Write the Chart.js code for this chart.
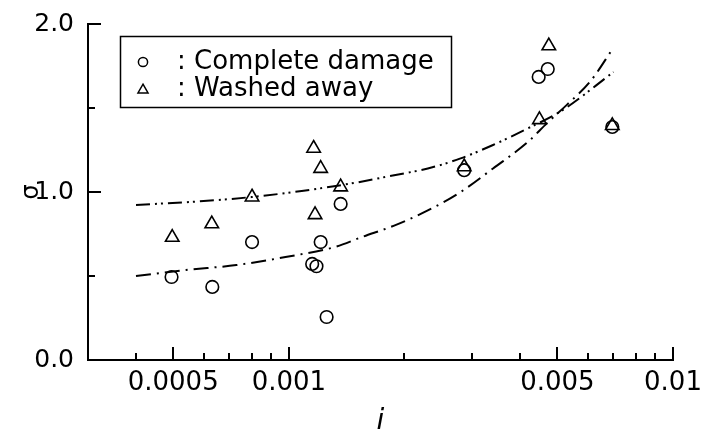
<!DOCTYPE html>
<html>
<head>
<meta charset="utf-8">
<script src="https://cdn.jsdelivr.net/npm/chart.js@4/dist/chart.umd.min.js"></script>
<style>
  body { margin: 0; background: #fff; }
  #wrap { width: 703px; height: 434px; }
</style>
</head>
<body>
<div id="wrap"><canvas id="sigma-chart" width="703" height="434"></canvas></div>
<script>
// observed points, channel slope i vs. sigma
const damageI     = [0.000495, 0.000632, 0.000802, 0.00115, 0.00118, 0.00121, 0.001254, 0.001364, 0.00286, 0.00447, 0.00472, 0.00695];
const damageSigma = [0.494, 0.435, 0.702, 0.572, 0.558, 0.702, 0.256, 0.929, 1.13, 1.685, 1.732, 1.387];

const washedI     = [0.000497, 0.00063, 0.000802, 0.00116, 0.00117, 0.00121, 0.001364, 0.00286, 0.00449, 0.00475, 0.00695];
const washedSigma = [0.73, 0.81, 0.97, 1.26, 0.865, 1.14, 1.03, 1.15, 1.43, 1.87, 1.395];

// fitted curves
const damageFitI     = [0.0004, 0.00054, 0.00073, 0.00098, 0.00132, 0.00155, 0.00188, 0.0023, 0.0028, 0.0034, 0.0042, 0.0047, 0.0053, 0.0061, 0.007];
const damageFitSigma = [0.50, 0.536, 0.565, 0.613, 0.673, 0.732, 0.80, 0.89, 1.0, 1.14, 1.30, 1.41, 1.52, 1.66, 1.86];

const washedFitI     = [0.0004, 0.0006, 0.0008, 0.00108, 0.00148, 0.00188, 0.0023, 0.0028, 0.0034, 0.0042, 0.0051, 0.007];
const washedFitSigma = [0.923, 0.946, 0.97, 1.006, 1.054, 1.10, 1.14, 1.20, 1.28, 1.38, 1.48, 1.714];

// axis ticks
const xTicks      = [0.0004, 0.0005, 0.0006, 0.0007, 0.0008, 0.0009, 0.001, 0.002, 0.003, 0.004, 0.005, 0.006, 0.007, 0.008, 0.009, 0.01];
const xMajor      = [0.0005, 0.001, 0.005, 0.01];
const xLabels     = ['0.0005', '0.001', '0.005', '0.01'];
const yTicks      = [0, 0.5, 1, 1.5, 2];
const yMajor      = [0, 1, 2];
const yLabels     = ['0.0', '1.0', '2.0'];

const FONT = 'DejaVu Sans';

const toPoints = (xs, ys) => xs.map((v, i) => ({ x: v, y: ys[i] }));
const near = (a, b) => Math.abs(a - b) < b * 1e-6 + 1e-12;
const labelFor = (v, majors, labels) => {
    const k = majors.findIndex(m => near(v, m));
    return k < 0 ? '' : labels[k];
};

// inward tick marks, long on labelled values
const inwardTicks = {
    id: 'inwardTicks',
    afterDraw(chart) {
        const { ctx, scales: { x, y } } = chart;
        ctx.save();
        ctx.strokeStyle = '#000';
        ctx.lineWidth = 2;
        ctx.beginPath();
        xTicks.forEach(v => {
            const px = Math.round(x.getPixelForValue(v));
            const len = xMajor.some(m => near(v, m)) ? 13 : 7;
            ctx.moveTo(px, y.bottom);
            ctx.lineTo(px, y.bottom - len);
        });
        yTicks.forEach(v => {
            const py = Math.round(y.getPixelForValue(v));
            const len = yMajor.some(m => near(v, m)) ? 13 : 7;
            ctx.moveTo(x.left, py);
            ctx.lineTo(x.left + len, py);
        });
        ctx.stroke();
        ctx.restore();
    }
};

// boxed key in the upper left of the plot
const keyBox = {
    id: 'keyBox',
    afterDraw(chart) {
        const ctx = chart.ctx;
        const entries = chart.data.datasets.filter(d => d.keyed);
        ctx.save();
        ctx.strokeStyle = '#000';
        ctx.lineWidth = 1.5;
        ctx.strokeRect(120.5, 36.5, 331, 71);
        ctx.font = `26px "${FONT}"`;
        ctx.textBaseline = 'middle';
        entries.forEach((d, i) => {
            const cy = 62 + i * 27;
            ctx.fillStyle = 'rgba(0,0,0,0)';
            Chart.helpers.drawPoint(ctx, {
                pointStyle: d.pointStyle,
                radius: d.pointStyle === 'triangle' ? 5.8 : 4.6,
                borderWidth: 1.4
            }, 143, cy + (d.pointStyle === 'triangle' ? 1 : 0));
            ctx.fillStyle = '#000';
            ctx.fillText(': ' + d.label, 177, cy);
        });
        ctx.restore();
    }
};

new Chart(document.getElementById('sigma-chart'), {
    type: 'scatter',
    data: {
        datasets: [
            {
                label: 'Complete damage',
                keyed: true,
                data: toPoints(damageI, damageSigma),
                pointStyle: 'circle',
                pointRadius: 6.3,
                pointBorderWidth: 1.6,
                pointBorderColor: '#000',
                pointBackgroundColor: 'rgba(0,0,0,0)'
            },
            {
                label: 'Washed away',
                keyed: true,
                data: toPoints(washedI, washedSigma),
                pointStyle: 'triangle',
                pointRadius: 7.8,
                pointBorderWidth: 1.6,
                pointBorderColor: '#000',
                pointBackgroundColor: 'rgba(0,0,0,0)'
            },
            {
                label: 'fit damage',
                data: toPoints(damageFitI, damageFitSigma),
                showLine: true,
                pointRadius: 0,
                borderColor: '#000',
                borderWidth: 2,
                borderDash: [15, 6, 2, 6],
                cubicInterpolationMode: 'monotone'
            },
            {
                label: 'fit washed',
                data: toPoints(washedFitI, washedFitSigma),
                showLine: true,
                pointRadius: 0,
                borderColor: '#000',
                borderWidth: 2,
                borderDash: [14, 5, 2, 4, 2, 5],
                cubicInterpolationMode: 'monotone'
            }
        ]
    },
    options: {
        responsive: false,
        devicePixelRatio: 1,
        animation: false,
        layout: { padding: { left: 0, right: 30, top: 24, bottom: 0 } },
        plugins: {
            legend: { display: false },
            tooltip: { enabled: false }
        },
        scales: {
            x: {
                type: 'logarithmic',
                min: 0.000305,
                max: 0.01,
                afterBuildTicks: (s) => { s.ticks = xTicks.map(v => ({ value: v })); },
                afterFit: (s) => { s.height = 74; s.paddingLeft = 0; s.paddingRight = 0; },
                grid: { display: false, drawTicks: false },
                border: { display: true, color: '#000', width: 2 },
                ticks: {
                    autoSkip: false,
                    maxRotation: 0,
                    padding: 8,
                    color: '#000',
                    font: { family: FONT, size: 26 },
                    callback: (v) => labelFor(v, xMajor, xLabels)
                },
                title: {
                    display: true,
                    text: 'i',
                    color: '#000',
                    font: { family: FONT, size: 28, style: 'italic', lineHeight: 1 },
                    padding: { top: 0, bottom: -2 }
                }
            },
            y: {
                min: 0,
                max: 2,
                afterBuildTicks: (s) => { s.ticks = yTicks.map(v => ({ value: v })); },
                afterFit: (s) => { s.width = 88; s.paddingTop = 0; s.paddingBottom = 0; },
                grid: { display: false, drawTicks: false },
                border: { display: true, color: '#000', width: 2 },
                ticks: {
                    autoSkip: false,
                    padding: 14,
                    color: '#000',
                    font: { family: FONT, size: 25 },
                    callback: (v) => labelFor(v, yMajor, yLabels)
                },
                title: {
                    display: true,
                    text: 'σ',
                    color: '#000',
                    font: { family: FONT, size: 24 },
                    padding: { top: 17, bottom: 0 }
                }
            }
        }
    },
    plugins: [inwardTicks, keyBox]
});
</script>
</body>
</html>
